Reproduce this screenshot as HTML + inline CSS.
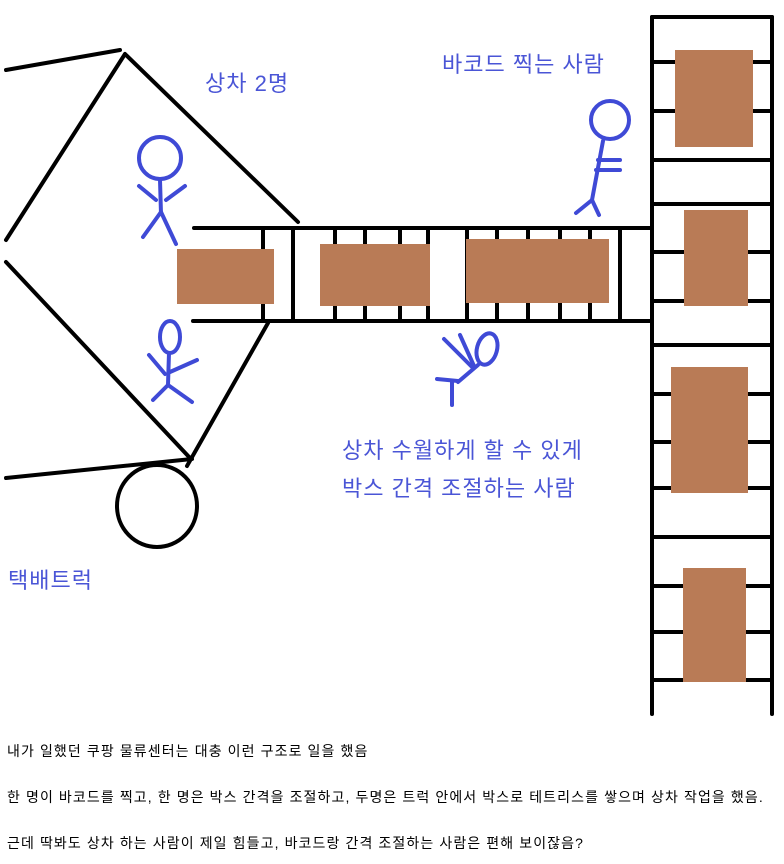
<!DOCTYPE html>
<html><head><meta charset="utf-8"><style>
html,body{margin:0;padding:0;background:#fff;width:784px;height:864px;overflow:hidden}
svg{position:absolute;left:0;top:0}
.b{fill:#4a55d6;font-family:"Liberation Sans","Noto Sans CJK KR",sans-serif;font-size:22px;letter-spacing:1px}
.t{fill:#000;font-family:"Liberation Sans","Noto Sans CJK KR",sans-serif;font-size:14px;letter-spacing:1.1px}
</style></head><body>
<svg width="784" height="864" viewBox="0 0 784 864" xmlns="http://www.w3.org/2000/svg">
<g stroke="#000" stroke-width="4" fill="none" stroke-linecap="round">
<line x1="6" y1="70" x2="120" y2="50"/>
<line x1="125" y1="54" x2="298" y2="222"/>
<line x1="125" y1="54" x2="6" y2="240"/>
<line x1="6" y1="262" x2="190" y2="458"/>
<line x1="268" y1="323" x2="187" y2="466"/>
<line x1="6" y1="478" x2="192" y2="459"/>
<ellipse cx="157" cy="506" rx="40" ry="41"/>
<line x1="194" y1="228" x2="652" y2="228"/>
<line x1="193" y1="321" x2="652" y2="321"/>
<line x1="263" y1="228" x2="263" y2="321"/><line x1="293" y1="228" x2="293" y2="321"/>
<line x1="335" y1="228" x2="335" y2="321"/><line x1="365" y1="228" x2="365" y2="321"/>
<line x1="400" y1="228" x2="400" y2="321"/><line x1="428" y1="228" x2="428" y2="321"/>
<line x1="467" y1="228" x2="467" y2="321"/><line x1="497" y1="228" x2="497" y2="321"/>
<line x1="528" y1="228" x2="528" y2="321"/><line x1="560" y1="228" x2="560" y2="321"/>
<line x1="590" y1="228" x2="590" y2="321"/><line x1="620" y1="228" x2="620" y2="321"/>
<line x1="652" y1="17" x2="652" y2="714"/>
<line x1="772" y1="17" x2="772" y2="714"/>
<line x1="652" y1="17" x2="772" y2="17"/>
<line x1="652" y1="62" x2="772" y2="62"/><line x1="652" y1="111" x2="772" y2="111"/>
<line x1="652" y1="160" x2="772" y2="160"/><line x1="652" y1="204" x2="772" y2="204"/>
<line x1="652" y1="252" x2="772" y2="252"/><line x1="652" y1="301" x2="772" y2="301"/>
<line x1="652" y1="345" x2="772" y2="345"/><line x1="652" y1="394" x2="772" y2="394"/>
<line x1="652" y1="442" x2="772" y2="442"/><line x1="652" y1="488" x2="772" y2="488"/>
<line x1="652" y1="537" x2="772" y2="537"/><line x1="652" y1="586" x2="772" y2="586"/>
<line x1="652" y1="632" x2="772" y2="632"/><line x1="652" y1="680" x2="772" y2="680"/>
</g>
<g fill="#b97b56">
<rect x="177" y="249" width="97" height="55"/>
<rect x="320" y="244" width="110" height="62"/>
<rect x="466" y="239" width="143" height="64"/>
<rect x="675" y="50" width="78" height="97"/>
<rect x="684" y="210" width="64" height="96"/>
<rect x="671" y="367" width="77" height="126"/>
<rect x="683" y="568" width="63" height="114"/>
</g>
<g stroke="#3f4ad6" stroke-width="4" fill="none" stroke-linecap="round">
<circle cx="160" cy="158" r="21"/>
<line x1="160" y1="180" x2="161" y2="214"/>
<line x1="139" y1="186" x2="156" y2="200"/><line x1="166" y1="200" x2="185" y2="186"/>
<line x1="161" y1="212" x2="143" y2="237"/><line x1="161" y1="212" x2="176" y2="244"/>
<ellipse cx="170" cy="337" rx="10" ry="16"/>
<line x1="169" y1="353" x2="168" y2="385"/>
<line x1="149" y1="355" x2="165" y2="374"/><line x1="170" y1="372" x2="197" y2="360"/>
<line x1="168" y1="385" x2="153" y2="400"/><line x1="168" y1="385" x2="192" y2="402"/>
<circle cx="610" cy="120" r="19"/>
<line x1="603" y1="141" x2="592" y2="200"/>
<line x1="598" y1="160" x2="620" y2="160"/><line x1="596" y1="170" x2="620" y2="170"/>
<line x1="592" y1="200" x2="576" y2="213"/><line x1="592" y1="200" x2="599" y2="215"/>
<ellipse cx="487" cy="349" rx="10" ry="16" transform="rotate(15 487 349)"/>
<line x1="444" y1="339" x2="473" y2="368"/><line x1="460" y1="335" x2="474" y2="366"/>
<line x1="478" y1="365" x2="458" y2="382"/>
<line x1="437" y1="379" x2="458" y2="381"/><line x1="452" y1="381" x2="452" y2="405"/>
</g>
<text class="b" x="205" y="91">상차 2명</text>
<text class="b" x="442" y="72">바코드 찍는 사람</text>
<text class="b" x="342" y="458">상차 수월하게 할 수 있게</text>
<text class="b" x="342" y="496">박스 간격 조절하는 사람</text>
<text class="b" x="8" y="588">택배트럭</text>
<text class="t" x="7" y="756">내가 일했던 쿠팡 물류센터는 대충 이런 구조로 일을 했음</text>
<text class="t" x="7" y="802">한 명이 바코드를 찍고, 한 명은 박스 간격을 조절하고, 두명은 트럭 안에서 박스로 테트리스를 쌓으며 상차 작업을 했음.</text>
<text class="t" x="7" y="848">근데 딱봐도 상차 하는 사람이 제일 힘들고, 바코드랑 간격 조절하는 사람은 편해 보이잖음?</text>
</svg>
</body></html>
